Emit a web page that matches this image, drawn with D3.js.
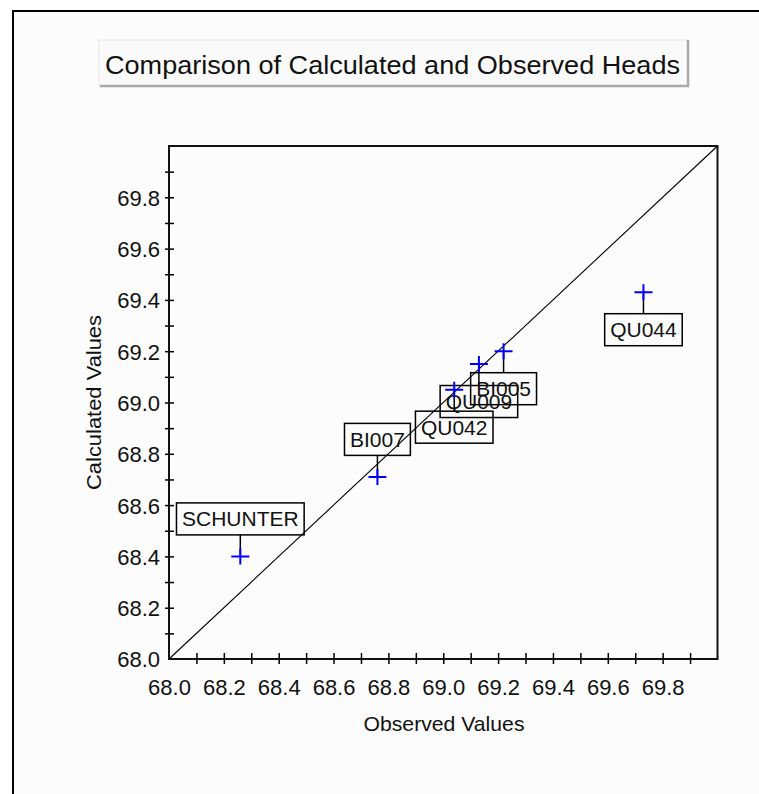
<!DOCTYPE html>
<html>
<head>
<meta charset="utf-8">
<script src="https://cdn.jsdelivr.net/npm/d3@7/dist/d3.min.js"></script>
<style>
  html, body { margin: 0; padding: 0; background: #ffffff; }
  svg { display: block; }
  text { font-family: "Liberation Sans", Arial, sans-serif; fill: #111; }
</style>
</head>
<body>
<svg id="chart" width="759" height="794"></svg>
<script>
// ---- data ----
const chartTitle = "Comparison of Calculated and Observed Heads";
const xTitle = "Observed Values";
const yTitle = "Calculated Values";
const pointNames = ["SCHUNTER", "BI007", "QU042", "QU009", "BI005", "QU044"];
const observedValues = [68.26, 68.76, 69.04, 69.13, 69.22, 69.73];
const calculatedValues = [68.40, 68.71, 69.05, 69.15, 69.20, 69.43];
const axisDomain = [68.0, 70.0];
const tickValuesMinor = [68.1, 68.2, 68.3, 68.4, 68.5, 68.6, 68.7, 68.8, 68.9, 69.0,
                         69.1, 69.2, 69.3, 69.4, 69.5, 69.6, 69.7, 69.8, 69.9];
const tickLabels = ["68.0", "68.2", "68.4", "68.6", "68.8", "69.0", "69.2", "69.4", "69.6", "69.8"];

// ---- layout (label placement: -1 above point, +1 below) ----
const labelSide = [-1, -1, 1, 1, 1, 1];

const svg = d3.select("#chart");

// outer panel frame
svg.append("rect").attr("x", 13).attr("y", 11).attr("width", 800).attr("height", 800)
  .attr("fill", "#fcfcfc").attr("stroke", "#000").attr("stroke-width", 2);

// title box (raised 3D style)
const tb = { x: 99, y: 40, w: 589, h: 46 };
svg.append("rect").attr("x", tb.x).attr("y", tb.y).attr("width", tb.w).attr("height", tb.h)
  .attr("fill", "#fafafa").attr("stroke", "#e4e4e4").attr("stroke-width", 1);
svg.append("path")
  .attr("d", `M${tb.x + 1},${tb.y + tb.h} H${tb.x + tb.w} V${tb.y}`)
  .attr("fill", "none").attr("stroke", "#a9a9a9").attr("stroke-width", 2.5);
svg.append("text").attr("x", tb.x + tb.w / 2 - 1).attr("y", 74)
  .attr("text-anchor", "middle").attr("font-size", 26)
  .attr("textLength", 575).attr("lengthAdjust", "spacingAndGlyphs")
  .text(chartTitle);

// scales
const x = d3.scaleLinear().domain(axisDomain).range([169, 717.5]);
const y = d3.scaleLinear().domain(axisDomain).range([659, 146]);

const labelSet = new Set(tickLabels);
const fmt = d => { const s = d3.format(".1f")(d); return labelSet.has(s) ? s : ""; };

// x axis
const gx = svg.append("g").attr("transform", `translate(0,${y(axisDomain[0])})`)
  .call(d3.axisBottom(x).tickValues([axisDomain[0]].concat(tickValuesMinor)).tickFormat(fmt).tickSize(5));
gx.select(".domain").remove();
gx.selectAll(".tick line").attr("y1", -6).attr("y2", 5).attr("stroke", "#000").attr("stroke-width", 1.5)
  .filter(d => d === axisDomain[0]).remove();
gx.selectAll(".tick text").attr("y", 36).attr("dy", null)
  .attr("font-size", 22).attr("font-family", "Liberation Sans, Arial, sans-serif").attr("fill", "#111");

// y axis
const gy = svg.append("g").attr("transform", `translate(${x(axisDomain[0])},0)`)
  .call(d3.axisLeft(y).tickValues([axisDomain[0]].concat(tickValuesMinor)).tickFormat(fmt).tickSize(4).tickPadding(5));
gy.select(".domain").remove();
gy.selectAll(".tick line").attr("x1", 5).attr("x2", -4).attr("stroke", "#000").attr("stroke-width", 1.5)
  .filter(d => d === axisDomain[0]).remove();
gy.selectAll(".tick text").attr("dy", "0.36em")
  .attr("font-size", 22).attr("font-family", "Liberation Sans, Arial, sans-serif").attr("fill", "#111");

// plot frame
svg.append("rect")
  .attr("x", x(axisDomain[0])).attr("y", y(axisDomain[1]))
  .attr("width", x(axisDomain[1]) - x(axisDomain[0]))
  .attr("height", y(axisDomain[0]) - y(axisDomain[1]))
  .attr("fill", "none").attr("stroke", "#111").attr("stroke-width", 2);

// 1:1 line
svg.append("line")
  .attr("x1", x(axisDomain[0])).attr("y1", y(axisDomain[0]))
  .attr("x2", x(axisDomain[1])).attr("y2", y(axisDomain[1]))
  .attr("stroke", "#000").attr("stroke-width", 1.1);

// axis titles
svg.append("text").attr("x", 444).attr("y", 731).attr("text-anchor", "middle")
  .attr("font-size", 21).attr("textLength", 161).attr("lengthAdjust", "spacingAndGlyphs").text(xTitle);
svg.append("text").attr("transform", "translate(101,402.5) rotate(-90)").attr("text-anchor", "middle")
  .attr("font-size", 21).attr("textLength", 175).attr("lengthAdjust", "spacingAndGlyphs").text(yTitle);

// points + labels
const pts = pointNames.map((n, i) => ({ name: n, ox: observedValues[i], cy: calculatedValues[i], side: labelSide[i] }));

const gLab = svg.append("g");
pts.forEach(p => {
  const px = x(p.ox), py = y(p.cy);
  const g = gLab.append("g");
  const t = g.append("text").attr("font-size", 21).attr("text-anchor", "middle").text(p.name);
  const tw = t.node().getComputedTextLength();
  const bw = tw + 11, bh = 32;
  const bcy = py + p.side * 37.5;
  const btop = bcy - bh / 2, bbot = bcy + bh / 2;
  // leader
  g.insert("line", "text")
    .attr("x1", px).attr("y1", py)
    .attr("x2", px).attr("y2", p.side < 0 ? bbot : btop)
    .attr("stroke", "#000").attr("stroke-width", 1.5);
  g.insert("rect", "text")
    .attr("x", px - bw / 2).attr("y", btop).attr("width", bw).attr("height", bh)
    .attr("fill", "none").attr("stroke", "#000").attr("stroke-width", 1.5);
  t.attr("x", px).attr("y", bcy + 7.5);
});

// markers
svg.append("g").selectAll("path").data(pts).join("path")
  .attr("d", p => {
    const px = x(p.ox), py = y(p.cy);
    return `M${px - 9},${py} H${px + 9} M${px},${py - 8} V${py + 8}`;
  })
  .attr("stroke", "#0000ff").attr("stroke-width", 2).attr("fill", "none");
</script>
</body>
</html>
